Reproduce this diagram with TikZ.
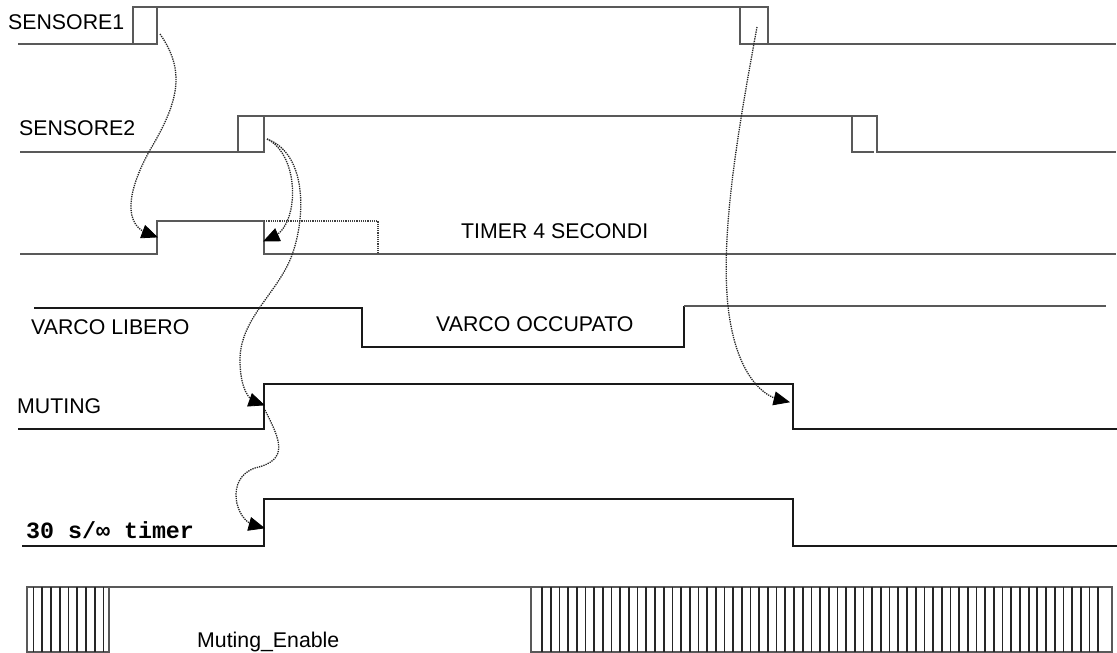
\documentclass[tikz,border=0pt]{standalone}
\usepackage{fontspec}
\setmainfont{Liberation Sans}
\newfontfamily\monofont{Liberation Mono}
\usetikzlibrary{arrows.meta}
\tikzset{
  sig/.style={line width=1.5pt, draw=black!65},
  sigk/.style={line width=1.5pt, draw=black!90},
  tmr/.style={line width=1.2pt, draw=black!75, densely dotted},
  conn/.style={line width=1.3pt, draw=black!85, densely dotted, shorten >=10pt},
  head/.style={fill=black, draw=black, line width=0.8pt, line join=miter},
  lbl/.style={inner sep=0pt, anchor=base west, font=\fontsize{21.3}{23}\selectfont},
  stripe/.style={line width=1.7pt, draw=black!85},
}
\begin{document}
\begin{tikzpicture}[x=1pt,y=-1pt]
\useasboundingbox (0,0) rectangle (1117,653);
% SENSORE1
\draw[sig] (18,44) -- (157,44) -- (157,7) (133,44) -- (133,7) -- (768,7) -- (768,44) -- (1116,44);
\draw[sig] (740,7) -- (740,44) -- (768,44);
\node[lbl] (ls1) at (8,29) {SENSORE1};
% SENSORE2
\draw[sig] (20,152) -- (264,152) -- (264,116) (238,152) -- (238,116) -- (877,116) -- (877,152) -- (1116,152);
\draw[sig] (852,116) -- (852,152) -- (874,152);
\node[lbl] (ls2) at (19,135) {SENSORE2};
% TIMER
\draw[sig] (20,254) -- (157,254) -- (157,221) -- (264,221) -- (264,254) -- (1116,254);
\draw[tmr] (264,221) -- (378,221) -- (378,254);
\node[lbl] (lt) at (461,238) {TIMER 4 SECONDI};
% VARCO
\draw[sigk] (34,308) -- (362,308) -- (362,347) -- (684,347) -- (684,306);
\draw[sig] (684,306) -- (1106,306);
\node[lbl] (lvl) at (31,334) {VARCO LIBERO};
\node[lbl] (lvo) at (436,331) {VARCO OCCUPATO};
% MUTING
\draw[sigk] (18,429) -- (264,429) -- (264,384) -- (793,384) -- (793,429) -- (1117,429);
\node[lbl] (lm) at (17,413) {MUTING};
% 30 s timer
\draw[sigk] (22,546) -- (264,546) -- (264,499) -- (793,499) -- (793,546) -- (1117,546);
\node[inner sep=0pt, anchor=base west, font=\monofont\bfseries\fontsize{23.3}{25}\selectfont] (l30) at (26,538) {30 s/∞ timer};
% Muting_Enable
\draw[sig] (27,587) rectangle (109,652);
\foreach \i in {0,...,8} { \draw[stripe] ({33.5+\i*8.75},587) -- ({33.5+\i*8.75},652); }
\draw[sig] (109,587) -- (531,587);
\draw[sig] (531,587) rectangle (1112,652);
\foreach \i in {0,...,64} { \draw[stripe] ({542+\i*8.69},587) -- ({542+\i*8.69},652); }
\node[lbl] (lme) at (197,647) {Muting\_Enable};
% connectors
\coordinate (a1) at (160,34);
\coordinate (b1) at (157,237);
\coordinate (a2) at (267,139);
\coordinate (b2) at (264,241);
\coordinate (b3) at (264,405);
\coordinate (a4) at (265,410);
\coordinate (b4) at (264,528);
\coordinate (a5) at (757,27);
\coordinate (b5) at (789,402);
\draw[conn] (a1) .. controls (185,70) and (180,100) .. (150,150) .. controls (125,195) and (125,225) .. (b1);
\draw[conn] (a2) .. controls (300,155) and (300,225) .. (b2);
\draw[conn] (a2) .. controls (310,155) and (305,225) .. (290,260) .. controls (275,295) and (240,320) .. (240,360) .. controls (240,390) and (250,400) .. (b3);
\draw[conn] (a4) .. controls (280,440) and (290,460) .. (255,468) .. controls (225,478) and (235,520) .. (b4);
\draw[conn] (a5) .. controls (740,120) and (720,230) .. (728,306) .. controls (735,370) and (760,395) .. (b5);
% arrow heads
\draw[head, shift={(b1)}, rotate=-20.6] (0,0) -- (-15,6.5) -- (-15,-6.5) -- cycle;
\draw[head, shift={(b2)}, rotate=-156] (0,0) -- (-15,6.5) -- (-15,-6.5) -- cycle;
\draw[head, shift={(b3)}, rotate=-19.7] (0,0) -- (-15,6.5) -- (-15,-6.5) -- cycle;
\draw[head, shift={(b4)}, rotate=-15.4] (0,0) -- (-15,6.5) -- (-15,-6.5) -- cycle;
\draw[head, shift={(b5)}, rotate=-13.6] (0,0) -- (-15,6.5) -- (-15,-6.5) -- cycle;
\end{tikzpicture}
\end{document}
